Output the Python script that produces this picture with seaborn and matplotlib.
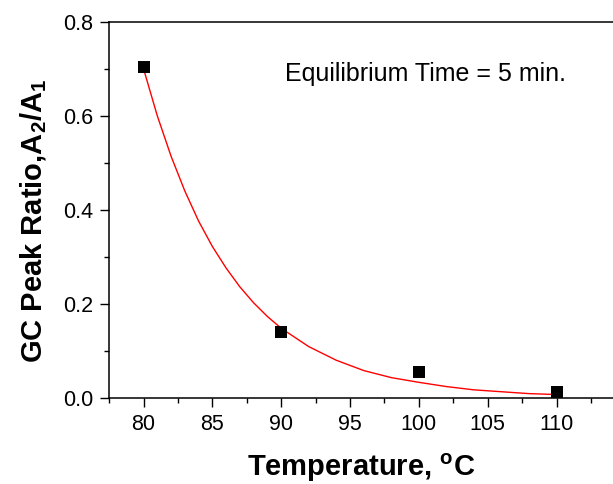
import numpy as np
import pandas as pd
import seaborn as sns
import matplotlib.pyplot as plt
from matplotlib.ticker import MultipleLocator

# measured points
temperature = [80, 90, 100, 110]
peak_ratio = [0.704, 0.141, 0.054, 0.0115]

# fitted curve
fit_temperature = [80, 81, 82, 83, 84, 85, 86, 87, 88, 89, 90,
                   92, 94, 96, 98, 100, 102, 104, 106, 108, 110]
fit_ratio = [0.700, 0.600, 0.514, 0.440, 0.376, 0.322, 0.276, 0.236, 0.202, 0.173, 0.148,
             0.109, 0.080, 0.058, 0.043, 0.033, 0.024, 0.017, 0.013, 0.009, 0.007]

points = pd.DataFrame({"T": temperature, "ratio": peak_ratio})
fit = pd.DataFrame({"T": fit_temperature, "ratio": fit_ratio})

sns.set_style("ticks")
plt.rcParams['font.family'] = ['Liberation Sans', 'DejaVu Sans']
plt.rcParams['mathtext.fontset'] = 'custom'
plt.rcParams['mathtext.rm'] = 'Liberation Sans'
plt.rcParams['mathtext.bf'] = 'Liberation Sans:bold'
plt.rcParams['text.color'] = 'black'
plt.rcParams['axes.labelcolor'] = 'black'

fig = plt.figure(figsize=(6.13, 4.84), dpi=100)
ax = fig.add_axes([0.178, 0.178, 0.822, 0.777])

sns.lineplot(data=fit, x="T", y="ratio", color="red", lw=1.0, ax=ax)
sns.scatterplot(data=points, x="T", y="ratio", marker="s", s=80, color="black",
                edgecolor="black", linewidth=0, zorder=3, ax=ax)

ax.set_xlim(77.5, 114.1)
ax.set_ylim(0, 0.8)
ax.xaxis.set_major_locator(MultipleLocator(5))
ax.xaxis.set_minor_locator(MultipleLocator(2.5))
ax.yaxis.set_major_locator(MultipleLocator(0.2))
ax.yaxis.set_minor_locator(MultipleLocator(0.1))
ax.yaxis.set_major_formatter(plt.FormatStrFormatter('%.1f'))

ax.spines['right'].set_visible(False)
for s in ['left', 'bottom', 'top']:
    ax.spines[s].set_linewidth(1.1)
    ax.spines[s].set_color('black')
ax.tick_params(which='major', direction='out', length=6.5, width=1, labelsize=15.5,
               colors='black', top=False, right=False, pad=5)
ax.tick_params(which='minor', direction='out', length=3.3, width=1, colors='black',
               top=False, right=False)

ax.set_xlabel(r"Temperature, $^{\mathbf{o}}$C", fontsize=21, fontweight='bold', labelpad=12)
ax.set_ylabel(r"GC Peak Ratio,A$_{\mathbf{2}}$/A$_{\mathbf{1}}$", fontsize=21,
              fontweight='bold')
ax.yaxis.set_label_coords(-0.12, 0.47)

ax.text(90.3, 0.673, "Equilibrium Time = 5 min.", fontsize=18, color='black')

fig.savefig("out.png", dpi=100)
